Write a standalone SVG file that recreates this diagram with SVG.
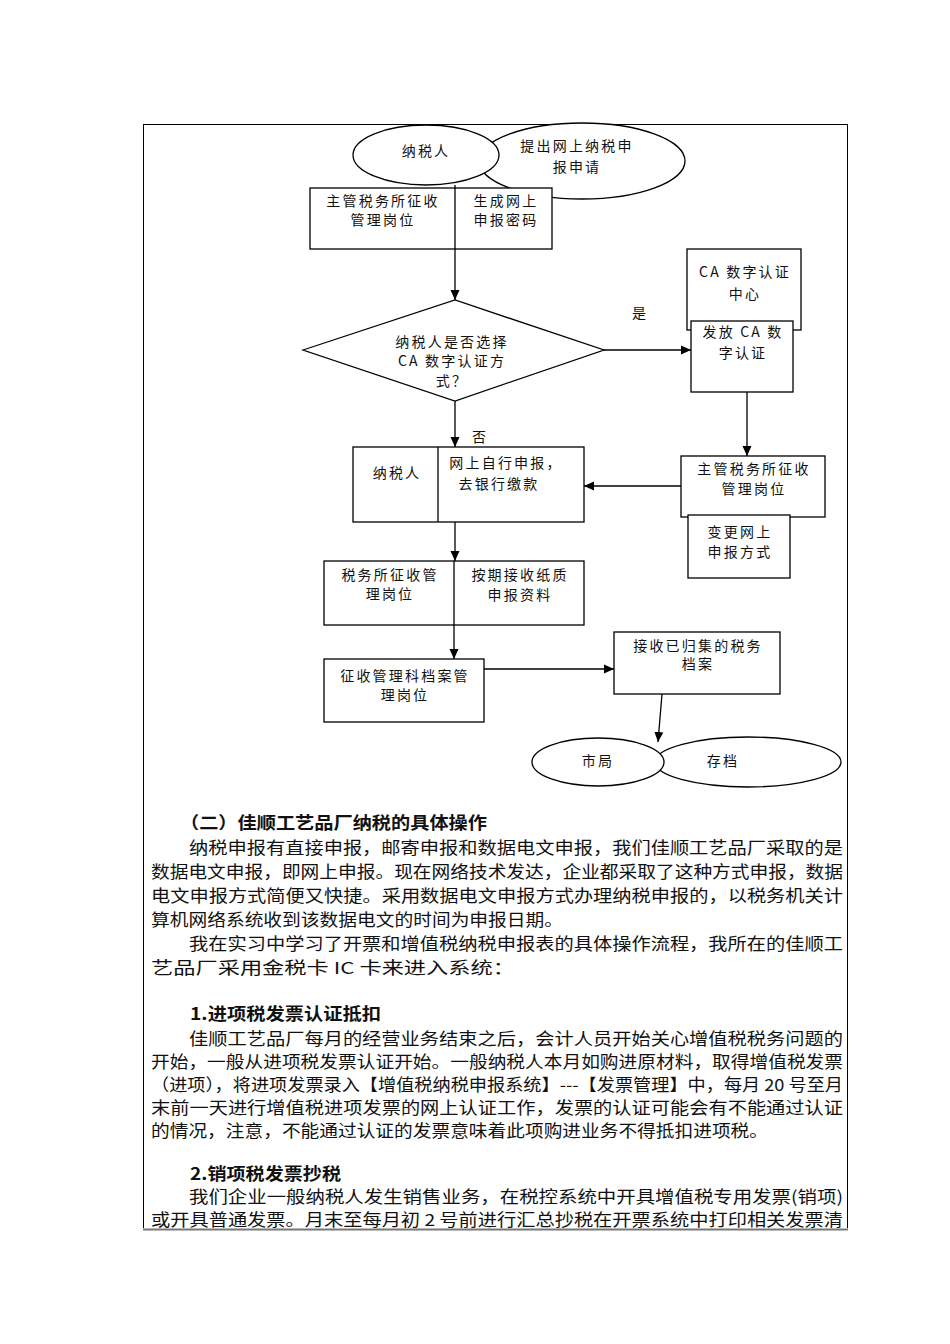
<svg xmlns="http://www.w3.org/2000/svg" width="950" height="1344" viewBox="0 0 950 1344">
<defs>
<marker id="ah" viewBox="0 0 10 10" refX="10" refY="5" markerWidth="10" markerHeight="10" markerUnits="userSpaceOnUse" orient="auto">
<path d="M0,0.5 L10,5 L0,9.5 z" fill="#000"/>
</marker>
<style>
.s{fill:#fff;stroke:#000;stroke-width:1.3}
.c{fill:none;stroke:#000;stroke-width:1.3}
.t{font-family:"Noto Sans CJK SC","Liberation Serif",serif;font-size:14px;letter-spacing:2.2px;text-anchor:middle;fill:#111}
.p{font-family:"Noto Sans CJK SC","Liberation Serif",serif;font-size:16.5px;fill:#111}
.h{font-family:"Noto Sans CJK SC","Liberation Sans",sans-serif;font-size:17px;font-weight:bold;fill:#111}
</style>
</defs>
<rect width="950" height="1344" fill="#fff"/>
<rect x="143.5" y="124.5" width="704" height="1105" fill="none" stroke="#000" stroke-width="1"/>

<g id="n_apply">
<ellipse class="s" cx="582" cy="161" rx="103" ry="38"/>
<text class="t" x="577" y="151">提出网上纳税申</text>
<text class="t" x="577" y="172">报申请</text>
</g>
<g id="n_taxpayer1">
<ellipse class="s" cx="426" cy="155" rx="73" ry="30"/>
<text class="t" x="426" y="156">纳税人</text>
</g>
<g id="n_box1">
<rect class="s" x="310" y="188" width="242" height="61"/>
<text class="t" x="383" y="206">主管税务所征收</text>
<text class="t" x="383" y="225">管理岗位</text>
<text class="t" x="506" y="206">生成网上</text>
<text class="t" x="506" y="225">申报密码</text>
</g>
<g id="n_decision">
<polygon class="s" points="303,350 455,300 604,350 455,401"/>
<text class="t" x="452" y="347">纳税人是否选择</text>
<text class="t" x="452" y="366">CA 数字认证方</text>
<text class="t" x="452" y="386">式？</text>
</g>
<g id="n_cacenter">
<rect class="s" x="687" y="249" width="114" height="81"/>
<text class="t" x="745" y="277">CA 数字认证</text>
<text class="t" x="745" y="299">中心</text>
</g>
<g id="n_issue">
<rect class="s" x="691" y="321" width="102" height="71"/>
<text class="t" x="743" y="337">发放 CA 数</text>
<text class="t" x="743" y="358">字认证</text>
</g>
<g id="n_box2">
<rect class="s" x="681" y="456" width="144" height="61"/>
<text class="t" x="754" y="474">主管税务所征收</text>
<text class="t" x="754" y="494">管理岗位</text>
</g>
<g id="n_change">
<rect class="s" x="688" y="515" width="102" height="63"/>
<text class="t" x="740" y="537">变更网上</text>
<text class="t" x="740" y="557">申报方式</text>
</g>
<g id="n_self">
<rect class="s" x="353" y="447" width="231" height="75"/>
<line class="c" x1="438" y1="447" x2="438" y2="522"/>
<text class="t" x="397" y="478">纳税人</text>
<text class="t" x="506" y="468">网上自行申报，</text>
<text class="t" x="499" y="489">去银行缴款</text>
</g>
<g id="n_paper">
<rect class="s" x="324" y="561" width="260" height="64"/>
<text class="t" x="390" y="580">税务所征收管</text>
<text class="t" x="390" y="599">理岗位</text>
<text class="t" x="520" y="580">按期接收纸质</text>
<text class="t" x="520" y="600">申报资料</text>
</g>
<g id="n_archive">
<rect class="s" x="324" y="659" width="160" height="63"/>
<text class="t" x="405" y="681">征收管理科档案管</text>
<text class="t" x="405" y="700">理岗位</text>
</g>
<g id="n_receive">
<rect class="s" x="614" y="632" width="166" height="62"/>
<text class="t" x="698" y="651">接收已归集的税务</text>
<text class="t" x="698" y="669">档案</text>
</g>
<g id="n_store">
<ellipse class="s" cx="748" cy="762" rx="93" ry="25"/>
<text class="t" x="723" y="766">存档</text>
</g>
<g id="n_city">
<ellipse class="s" cx="598" cy="762" rx="66" ry="24"/>
<text class="t" x="598" y="766">市局</text>
</g>

<g id="connectors">
<line class="c" x1="455" y1="185" x2="455" y2="300" marker-end="url(#ah)"/>
<line class="c" x1="604" y1="350" x2="691" y2="350" marker-end="url(#ah)"/>
<line class="c" x1="747" y1="392" x2="747" y2="456" marker-end="url(#ah)"/>
<line class="c" x1="681" y1="486" x2="584" y2="486" marker-end="url(#ah)"/>
<line class="c" x1="455" y1="401" x2="455" y2="447" marker-end="url(#ah)"/>
<line class="c" x1="455" y1="522" x2="455" y2="561" marker-end="url(#ah)"/>
<line class="c" x1="454" y1="561" x2="454" y2="659" marker-end="url(#ah)"/>
<line class="c" x1="484" y1="669" x2="614" y2="669" marker-end="url(#ah)"/>
<line class="c" x1="662" y1="694" x2="658" y2="742" marker-end="url(#ah)"/>
<text class="t" x="640" y="318">是</text>
<text class="t" x="480" y="442">否</text>
</g>

<g id="body">
<text class="h" x="180" y="829" textLength="307" lengthAdjust="spacingAndGlyphs">（二）佳顺工艺品厂纳税的具体操作</text>
<text class="p" x="189" y="854" textLength="654" lengthAdjust="spacingAndGlyphs">纳税申报有直接申报，邮寄申报和数据电文申报，我们佳顺工艺品厂采取的是</text>
<text class="p" x="151" y="878" textLength="692" lengthAdjust="spacingAndGlyphs">数据电文申报，即网上申报。现在网络技术发达，企业都采取了这种方式申报，数据</text>
<text class="p" x="151" y="902" textLength="692" lengthAdjust="spacingAndGlyphs">电文申报方式简便又快捷。采用数据电文申报方式办理纳税申报的，以税务机关计</text>
<text class="p" x="151" y="926" textLength="412" lengthAdjust="spacingAndGlyphs">算机网络系统收到该数据电文的时间为申报日期。</text>
<text class="p" x="189" y="950" textLength="654" lengthAdjust="spacingAndGlyphs">我在实习中学习了开票和增值税纳税申报表的具体操作流程，我所在的佳顺工</text>
<text class="p" x="151" y="974" textLength="364" lengthAdjust="spacingAndGlyphs">艺品厂采用金税卡 IC 卡来进入系统：</text>

<text class="h" x="190" y="1020" textLength="191" lengthAdjust="spacingAndGlyphs">1.进项税发票认证抵扣</text>
<text class="p" x="189" y="1045" textLength="654" lengthAdjust="spacingAndGlyphs">佳顺工艺品厂每月的经营业务结束之后，会计人员开始关心增值税税务问题的</text>
<text class="p" x="151" y="1068" textLength="692" lengthAdjust="spacingAndGlyphs">开始，一般从进项税发票认证开始。一般纳税人本月如购进原材料，取得增值税发票</text>
<text class="p" x="151" y="1091" textLength="692" lengthAdjust="spacingAndGlyphs">（进项），将进项发票录入【增值税纳税申报系统】---【发票管理】中，每月 20 号至月</text>
<text class="p" x="151" y="1114" textLength="692" lengthAdjust="spacingAndGlyphs">末前一天进行增值税进项发票的网上认证工作，发票的认证可能会有不能通过认证</text>
<text class="p" x="151" y="1137" textLength="617" lengthAdjust="spacingAndGlyphs">的情况，注意，不能通过认证的发票意味着此项购进业务不得抵扣进项税。</text>

<text class="h" x="190" y="1180" textLength="151" lengthAdjust="spacingAndGlyphs">2.销项税发票抄税</text>
<text class="p" x="189" y="1203" textLength="654" lengthAdjust="spacingAndGlyphs">我们企业一般纳税人发生销售业务，在税控系统中开具增值税专用发票(销项)</text>
<text class="p" x="151" y="1226" textLength="692" lengthAdjust="spacingAndGlyphs">或开具普通发票。月末至每月初 2 号前进行汇总抄税在开票系统中打印相关发票清</text>
</g>
<rect x="143" y="1228" width="705" height="3" fill="#fff"/>
<line x1="143" y1="1229.5" x2="848" y2="1229.5" stroke="#777" stroke-width="2"/>
</svg>
